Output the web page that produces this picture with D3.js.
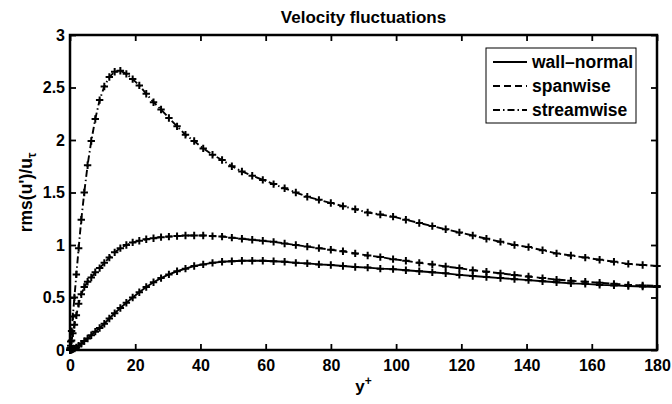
<!DOCTYPE html>
<html>
<head>
<meta charset="utf-8">
<script src="https://cdn.jsdelivr.net/npm/d3@7"></script>
<style>
  body { margin: 0; background: #fff; }
  text { font-family: "Liberation Sans", Arial, Helvetica, sans-serif; font-weight: bold; fill: #000; }
</style>
</head>
<body>
<div id="chart"></div>
<script>
// y+ positions of the grid points (half channel)
var yPlus = [0, 0.054, 0.217, 0.488, 0.867, 1.353, 1.949, 2.650, 3.458, 4.374, 5.394, 6.521, 7.751, 9.086,
  10.52, 12.06, 13.70, 15.44, 17.28, 19.22, 21.25, 23.38, 25.61, 27.92, 30.33, 32.83, 35.41, 38.08,
  40.85, 43.70, 46.63, 49.63, 52.72, 55.88, 59.12, 62.43, 65.81, 69.25, 72.76, 76.33, 79.98, 83.70,
  87.46, 91.28, 95.15, 99.07, 103.0, 107.1, 111.1, 115.2, 119.4, 123.5, 127.7, 132.0, 136.3, 140.6,
  144.9, 149.2, 153.6, 158.0, 162.4, 166.8, 171.2, 175.6, 180];

var wallNormal = [0, 0, 0, 0.002, 0.006, 0.013, 0.025, 0.04, 0.06, 0.085, 0.11, 0.14, 0.175, 0.21,
  0.25, 0.30, 0.35, 0.40, 0.45, 0.50, 0.55, 0.60, 0.645, 0.685, 0.72, 0.75, 0.775, 0.80,
  0.815, 0.83, 0.84, 0.845, 0.85, 0.85, 0.85, 0.845, 0.84, 0.83, 0.825, 0.815, 0.81, 0.80,
  0.79, 0.785, 0.775, 0.77, 0.76, 0.75, 0.74, 0.73, 0.715, 0.705, 0.695, 0.685, 0.675, 0.665,
  0.655, 0.645, 0.635, 0.63, 0.62, 0.615, 0.61, 0.605, 0.60];

var spanwise = [0, 0.01, 0.04, 0.09, 0.16, 0.24, 0.33, 0.44, 0.53, 0.60, 0.65, 0.69, 0.74, 0.78,
  0.83, 0.88, 0.93, 0.97, 1.0, 1.025, 1.04, 1.055, 1.065, 1.075, 1.08, 1.085, 1.09, 1.09,
  1.09, 1.085, 1.08, 1.07, 1.06, 1.05, 1.04, 1.03, 1.015, 1.0, 0.985, 0.97, 0.955, 0.94,
  0.92, 0.90, 0.885, 0.865, 0.85, 0.83, 0.815, 0.795, 0.78, 0.76, 0.745, 0.73, 0.715, 0.70,
  0.685, 0.67, 0.66, 0.65, 0.64, 0.63, 0.62, 0.615, 0.61];

var streamwise = [0, 0.02, 0.08, 0.18, 0.32, 0.50, 0.72, 0.97, 1.24, 1.50, 1.76, 1.99, 2.20, 2.38,
  2.51, 2.60, 2.65, 2.66, 2.63, 2.58, 2.52, 2.44, 2.36, 2.29, 2.21, 2.13, 2.05, 1.99,
  1.92, 1.86, 1.81, 1.75, 1.70, 1.66, 1.62, 1.58, 1.54, 1.50, 1.46, 1.43, 1.40, 1.37,
  1.34, 1.31, 1.29, 1.27, 1.24, 1.21, 1.18, 1.15, 1.12, 1.09, 1.06, 1.03, 1.00, 0.98,
  0.95, 0.92, 0.90, 0.88, 0.86, 0.84, 0.82, 0.81, 0.80];

var seriesNames = ["wall\u2013normal", "spanwise", "streamwise"];
var xTicks = [0, 20, 40, 60, 80, 100, 120, 140, 160, 180];
var yTicks = [0, 0.5, 1, 1.5, 2, 2.5, 3];

var W = 672, H = 404;
var margin = {top: 35, right: 15, bottom: 54, left: 70};
var w = W - margin.left - margin.right;
var h = H - margin.top - margin.bottom;

var svg = d3.select("#chart").append("svg")
  .attr("width", W)
  .attr("height", H);
svg.append("rect").attr("width", W).attr("height", H).attr("fill", "#fff");

var g = svg.append("g")
  .attr("transform", "translate(" + margin.left + "," + margin.top + ")");

var x = d3.scaleLinear().domain([0, 180]).range([0, w]);
var y = d3.scaleLinear().domain([0, 3]).range([h, 0]);

var dashes = ["none", "7,4", "7,3,1.5,3"];
var series = [wallNormal, spanwise, streamwise];

var line = d3.line()
  .x(function(d, i) { return x(yPlus[i]); })
  .y(function(d) { return y(d); });

// curves
series.forEach(function(s, k) {
  g.append("path")
    .datum(s)
    .attr("d", line)
    .attr("fill", "none")
    .attr("stroke", "#000")
    .attr("stroke-width", 1.9)
    .attr("stroke-dasharray", dashes[k]);
});

// '+' markers
series.forEach(function(s) {
  g.append("g").selectAll("path")
    .data(s)
    .enter()
    .append("path")
    .attr("transform", function(d, i) { return "translate(" + x(yPlus[i]) + "," + y(d) + ")"; })
    .attr("d", "M-3.7,0H3.7M0,-3.7V3.7")
    .attr("stroke", "#000")
    .attr("stroke-width", 2);
});

// axes, ticks inward on all four sides
function styleAxis(sel) {
  sel.select(".domain").remove();
  sel.selectAll(".tick line").attr("stroke", "#000").attr("stroke-width", 1.8);
  sel.selectAll("text").style("font-size", "16px");
}

g.append("g")
  .attr("transform", "translate(0," + h + ")")
  .call(d3.axisBottom(x).tickValues(xTicks).tickSize(-6).tickPadding(10).tickFormat(d3.format("d")))
  .call(styleAxis);
g.append("g")
  .call(d3.axisTop(x).tickValues(xTicks).tickSize(-6).tickFormat(""))
  .call(styleAxis);
g.append("g")
  .call(d3.axisLeft(y).tickValues(yTicks).tickSize(-6).tickPadding(5).tickFormat(d3.format("")))
  .call(styleAxis);
g.append("g")
  .attr("transform", "translate(" + w + ",0)")
  .call(d3.axisRight(y).tickValues(yTicks).tickSize(-6).tickFormat(""))
  .call(styleAxis);

g.append("rect")
  .attr("width", w)
  .attr("height", h)
  .attr("fill", "none")
  .attr("stroke", "#000")
  .attr("stroke-width", 2.5);

// title and axis labels
svg.append("text")
  .attr("x", margin.left + w / 2)
  .attr("y", 23)
  .attr("text-anchor", "middle")
  .style("font-size", "17px")
  .text("Velocity fluctuations");

var xl = svg.append("text")
  .attr("x", margin.left + w / 2)
  .attr("y", 392)
  .attr("text-anchor", "middle")
  .style("font-size", "17px");
xl.append("tspan").text("y");
xl.append("tspan").attr("dy", -7).style("font-size", "12px").text("+");

var yl = svg.append("text")
  .attr("transform", "translate(32," + (margin.top + h / 2) + ") rotate(-90)")
  .attr("text-anchor", "middle")
  .style("font-size", "17.5px");
yl.append("tspan").text("rms(u')/u");
yl.append("tspan").attr("dy", 4).style("font-size", "12px").text("\u03c4");

// legend
var leg = svg.append("g").attr("transform", "translate(486,48)");
leg.append("rect")
  .attr("width", 150)
  .attr("height", 75)
  .attr("fill", "#fff")
  .attr("stroke", "#000")
  .attr("stroke-width", 1);
seriesNames.forEach(function(name, k) {
  var ly = 14 + k * 24;
  leg.append("line")
    .attr("x1", 7).attr("x2", 41)
    .attr("y1", ly).attr("y2", ly)
    .attr("stroke", "#000")
    .attr("stroke-width", 1.9)
    .attr("stroke-dasharray", dashes[k]);
  leg.append("text")
    .attr("x", 46)
    .attr("y", ly + 6)
    .style("font-size", "17.5px")
    .text(name);
});
</script>
</body>
</html>
